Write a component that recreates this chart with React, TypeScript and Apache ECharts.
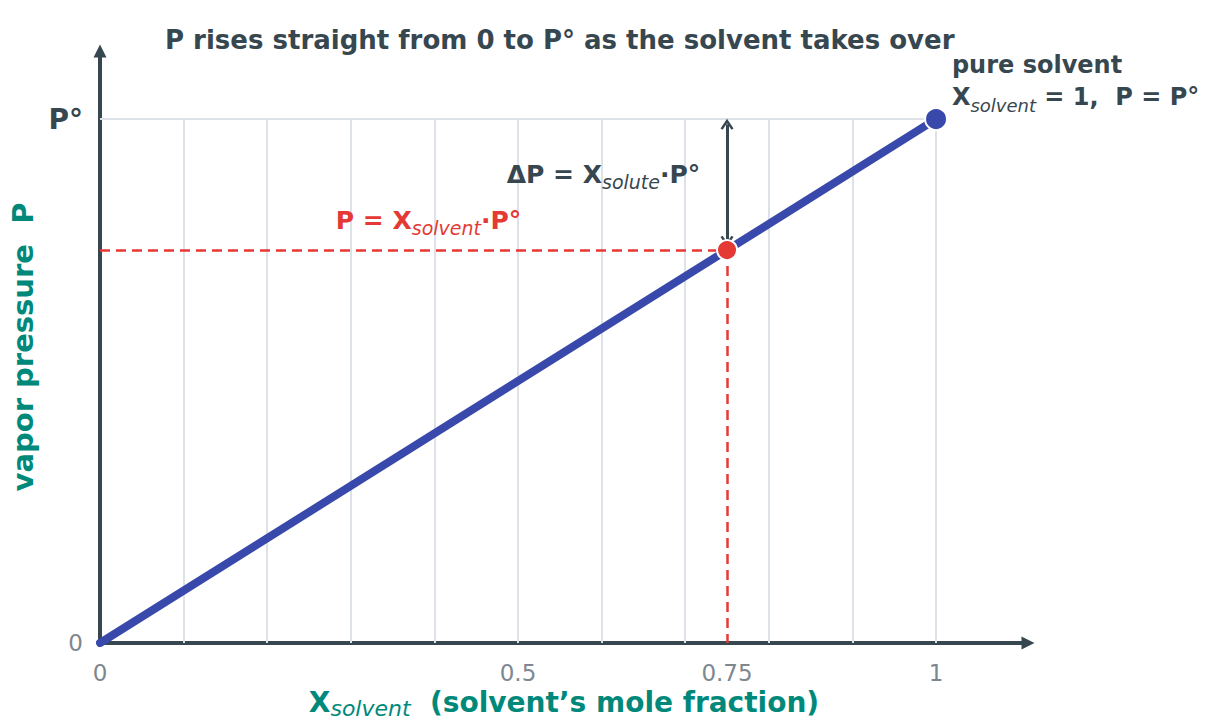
import React, { useEffect, useRef } from "react";
import * as echarts from "echarts";

// ---- data ----
const xTickValues = [0, 0.25, 0.5, 0.75, 1];
const xTickLabels = ["0", "", "0.5", "0.75", "1"];
const gridXs = [0.1, 0.2, 0.3, 0.4, 0.5, 0.6, 0.7, 0.8, 0.9, 1.0];
const gridTopP = 1;
const lineX = [0, 1];
const lineP = [0, 1];
const pureX = 1;
const pureP = 1;
const markX = 0.75;
const markP = 0.75;
const arrowTopP = 0.99;
const arrowBottomP = 0.767;

const FONT = "DejaVu Sans";
const DARK = "#37474f";
const TEAL = "#00897b";
const BLUE = "#3949ab";
const RED = "#e53935";
const GRAY = "#7d8790";
const GRID = "#dde1e8";

const chevron = "path://M5,0 L10,7.5 L8.4,8.6 L5,3.4 L1.6,8.6 L0,7.5 Z";

export default function App() {
  const ref = useRef<HTMLDivElement>(null);
  useEffect(() => {
    if (!ref.current) return;
    const chart = echarts.init(ref.current, undefined, { renderer: "svg" });
    const subStyle = (color: string, size: number) => ({
      fontFamily: FONT,
      fontStyle: "italic" as const,
      fontWeight: "normal" as const,
      fontSize: size,
      color,
      verticalAlign: "bottom" as const,
      lineHeight: 34,
    });
    const boldStyle = (color: string, size: number) => ({
      fontFamily: FONT,
      fontWeight: "bold" as const,
      fontSize: size,
      color,
      lineHeight: 30,
    });

    const gridLines: any[] = gridXs.map((x) => [
      { coord: [x, 0] },
      { coord: [x, gridTopP] },
    ]);
    gridLines.push([{ coord: [0, gridTopP] }, { coord: [1, gridTopP] }]);

    chart.setOption({
      animation: false,
      backgroundColor: "#ffffff",
      textStyle: { fontFamily: FONT },
      title: {
        text: "P rises straight from 0 to P° as the solvent takes over",
        left: 160,
        top: 22,
        textStyle: { fontFamily: FONT, fontWeight: "bold", fontSize: 26, color: DARK },
      },
      grid: {
        left: 100,
        right: 183,
        top: 51,
        bottom: 84,
        containLabel: false,
        outerBoundsMode: "none",
      },
      xAxis: {
        type: "value",
        min: 0,
        max: 1.11,
        interval: 0.25,
        axisLine: {
          show: true,
          symbol: ["none", "triangle"],
          symbolSize: [13, 13],
          lineStyle: { color: DARK, width: 4 },
        },
        axisTick: { show: false },
        splitLine: { show: false },
        axisLabel: {
          showMaxLabel: false,
          margin: 18,
          fontFamily: FONT,
          fontSize: 23,
          color: GRAY,
          formatter: (v: number) => {
            const i = xTickValues.findIndex((t) => Math.abs(t - v) < 1e-6);
            return i >= 0 ? xTickLabels[i] : "";
          },
        },
        name: "{b|X}{s|solvent}{b|  (solvent’s mole fraction)}",
        nameLocation: "middle",
        nameGap: 32,
        nameTextStyle: {
          rich: { b: boldStyle(TEAL, 28), s: subStyle(TEAL, 22) },
        },
      },
      yAxis: {
        type: "value",
        min: 0,
        max: 1.13,
        interval: 1,
        axisLine: {
          show: true,
          symbol: ["none", "triangle"],
          symbolSize: [13, 13],
          lineStyle: { color: DARK, width: 4 },
        },
        axisTick: { show: false },
        splitLine: { show: false },
        axisLabel: {
          showMaxLabel: false,
          margin: 17,
          formatter: (v: number) => (v === 0 ? "{z|0}" : v === 1 ? "{p|P°}" : ""),
          rich: {
            z: { fontFamily: FONT, fontSize: 23, color: GRAY },
            p: { fontFamily: FONT, fontSize: 28, fontWeight: "bold", color: DARK },
          },
        },
        name: "vapor pressure  P",
        nameLocation: "middle",
        nameGap: 50,
        nameTextStyle: { fontFamily: FONT, fontWeight: "bold", fontSize: 29, color: TEAL },
      },
      series: [
        {
          type: "line",
          data: [],
          silent: true,
          z: 1,
          markLine: {
            silent: true,
            z: 1,
            symbol: ["none", "none"],
            label: { show: false },
            lineStyle: { color: GRID, width: 2, type: "solid" },
            data: gridLines,
          },
        },
        {
          type: "line",
          data: lineX.map((x, i) => [x, lineP[i]]),
          showSymbol: false,
          lineStyle: { color: BLUE, width: 8, cap: "round" },
          z: 3,
          silent: true,
        },
        {
          type: "scatter",
          data: [[markX, markP]],
          symbolSize: 20,
          itemStyle: { color: RED, borderColor: "#ffffff", borderWidth: 2, opacity: 1 },
          z: 6,
          markLine: {
            silent: true,
            z: 2,
            symbol: ["none", "none"],
            label: { show: false },
            lineStyle: { color: RED, width: 2.5, type: [10, 6] },
            data: [
              [{ coord: [0, markP] }, { coord: [markX, markP] }],
              [{ coord: [markX, markP] }, { coord: [markX, 0] }],
            ],
          },
        },
        {
          type: "scatter",
          data: [[pureX, pureP]],
          symbolSize: 22,
          itemStyle: { color: BLUE, borderColor: "#ffffff", borderWidth: 2, opacity: 1 },
          z: 6,
        },
        {
          type: "line",
          data: [],
          z: 4,
          markLine: {
            silent: true,
            z: 4,
            symbol: [chevron, chevron],
            symbolSize: [13, 11],
            label: { show: false },
            lineStyle: { color: DARK, width: 3, type: "solid" },
            data: [[{ coord: [markX, arrowTopP] }, { coord: [markX, arrowBottomP] }]],
          },
        },
        {
          type: "scatter",
          symbolSize: 0,
          silent: true,
          z: 7,
          itemStyle: { opacity: 1 },
          data: [
            {
              value: [0.718, 0.895],
              label: {
                show: true,
                position: "left",
                distance: 0,
                formatter: "{b|ΔP = X}{s|solute}{b|·P°}",
                rich: { b: boldStyle(DARK, 25), s: subStyle(DARK, 19) },
              },
            },
            {
              value: [0.393, 0.807],
              label: {
                show: true,
                position: "inside",
                formatter: "{b|P = X}{s|solvent}{b|·P°}",
                rich: { b: boldStyle(RED, 25), s: subStyle(RED, 19) },
              },
            },
            {
              value: [1.019, 1.07],
              label: {
                show: true,
                position: "right",
                distance: 0,
                formatter: "{b|pure solvent}\n{b|X}{s|solvent}{b| = 1,  P = P°}",
                rich: { b: boldStyle(DARK, 24), s: subStyle(DARK, 18) },
              },
            },
          ],
        },
      ],
    });
    return () => chart.dispose();
  }, []);
  return (
    <div
      ref={ref}
      style={{ position: "absolute", left: 0, top: 0, width: 1211, height: 727 }}
    />
  );
}
